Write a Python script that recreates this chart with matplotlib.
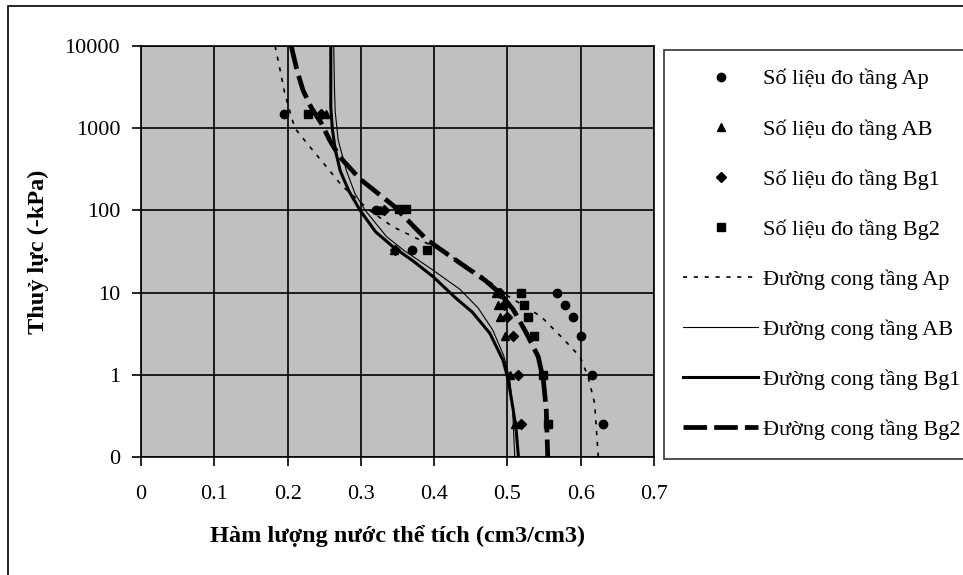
import matplotlib
matplotlib.use("Agg")
import matplotlib.pyplot as plt
from matplotlib.patches import Rectangle

# ---------- data ----------
# suction (-kPa) of measured points
ap_pts_x = [0.630, 0.615, 0.600, 0.590, 0.578, 0.567, 0.370, 0.320, 0.195]
ap_pts_y = [0.25, 1, 3, 5, 7, 10, 33, 100, 1500]

ab_pts_x = [0.510, 0.503, 0.497, 0.490, 0.487, 0.485, 0.345, 0.326, 0.253]
ab_pts_y = [0.25, 1, 3, 5, 7, 10, 33, 100, 1500]

bg1_pts_x = [0.519, 0.515, 0.507, 0.500, 0.495, 0.490, 0.347, 0.332, 0.245]
bg1_pts_y = [0.25, 1, 3, 5, 7, 10, 33, 100, 1500]

bg2_pts_x = [0.556, 0.549, 0.536, 0.528, 0.523, 0.519, 0.390, 0.352, 0.362, 0.228]
bg2_pts_y = [0.25, 1, 3, 5, 7, 10, 33, 105, 105, 1500]

# fitted curves
ap_cur_x = [0.183, 0.190, 0.196, 0.205, 0.210, 0.230, 0.253, 0.274, 0.312, 0.344,
            0.412, 0.467, 0.499, 0.546, 0.576, 0.599, 0.610, 0.619, 0.624]
ap_cur_y = [10000, 5000, 2700, 1400, 1000, 600, 340, 200, 100, 63,
            32, 15.5, 9.3, 5.1, 2.75, 1.66, 0.95, 0.45, 0.1]

ab_cur_x = [0.263, 0.264, 0.265, 0.269, 0.280, 0.292, 0.306, 0.335, 0.358, 0.399,
            0.435, 0.460, 0.480, 0.495, 0.503, 0.507, 0.510]
ab_cur_y = [10000, 3000, 1600, 720, 310, 160, 100, 48, 33, 18.6,
            11, 6.5, 3.5, 1.7, 0.9, 0.4, 0.1]

bg1_cur_x = [0.259, 0.259, 0.261, 0.265, 0.272, 0.284, 0.299, 0.320, 0.344, 0.372,
             0.399, 0.430, 0.452, 0.476, 0.494, 0.501, 0.508, 0.512, 0.515]
bg1_cur_y = [10000, 1800, 1000, 550, 300, 170, 100, 55, 36, 24,
             15.5, 8.5, 5.8, 3.2, 1.5, 0.87, 0.37, 0.21, 0.1]

bg2_cur_x = [0.205, 0.213, 0.221, 0.232, 0.246, 0.258, 0.271, 0.299, 0.344, 0.390,
             0.435, 0.470, 0.490, 0.508, 0.526, 0.542, 0.549, 0.553, 0.555]
bg2_cur_y = [10000, 5000, 2900, 1800, 1150, 700, 450, 240, 115, 44,
             23, 14, 9.8, 6.2, 3.2, 1.66, 0.87, 0.37, 0.1]

x_ticks = [0, 0.1, 0.2, 0.3, 0.4, 0.5, 0.6, 0.7]
x_labels = ["0", "0.1", "0.2", "0.3", "0.4", "0.5", "0.6", "0.7"]
y_ticks = [0.1, 1, 10, 100, 1000, 10000]
y_labels = ["0", "1", "10", "100", "1000", "10000"]

# ---------- figure ----------
plt.rcParams["font.family"] = ["Liberation Serif", "DejaVu Serif"]

W, H = 963, 575
fig = plt.figure(figsize=(W / 100, H / 100), dpi=100)
ax = fig.add_axes([141 / W, 1 - 457 / H, (654 - 141) / W, (457 - 46) / H])
ax.set_facecolor("#c0c0c0")

ms = 6
p1, = ax.plot(ap_pts_x, ap_pts_y, ls="none", marker="o", ms=ms, color="black")
p2, = ax.plot(ab_pts_x, ab_pts_y, ls="none", marker="^", ms=ms, color="black")
p3, = ax.plot(bg1_pts_x, bg1_pts_y, ls="none", marker="D", ms=ms - 1, color="black")
p4, = ax.plot(bg2_pts_x, bg2_pts_y, ls="none", marker="s", ms=ms - 0.5, color="black")

c1, = ax.plot(ap_cur_x, ap_cur_y, color="black", lw=1.2, dashes=(2.5, 4))
c2, = ax.plot(ab_cur_x, ab_cur_y, color="black", lw=0.8)
c3, = ax.plot(bg1_cur_x, bg1_cur_y, color="black", lw=2.2)
c4, = ax.plot(bg2_cur_x, bg2_cur_y, color="black", lw=3.4, dashes=(5, 1.5))

ax.set_yscale("log")
ax.set_xlim(0, 0.7)
ax.set_ylim(0.1, 10000)
ax.set_xticks(x_ticks)
ax.set_xticklabels(x_labels)
ax.set_yticks(y_ticks)
ax.set_yticklabels(y_labels)
ax.minorticks_off()
ax.tick_params(axis="both", direction="out", length=6.5, width=1.2, labelsize=16,
               colors="black")
ax.tick_params(axis="x", pad=14)
ax.tick_params(axis="y", pad=8.5)
ax.grid(True, color="black", lw=1.2)
ax.set_axisbelow(True)
for s in ax.spines.values():
    s.set_linewidth(1.2)

ax.set_xlabel("Hàm lượng nước thể tích (cm3/cm3)", fontsize=17.5, fontweight="bold",
              labelpad=15)
ax.set_ylabel("Thuỷ lực (-kPa)", fontsize=17.5, fontweight="bold", labelpad=11)

handles = [p1, p2, p3, p4, c1, c2, c3, c4]
labels = ["Số liệu đo tầng Ap", "Số liệu đo tầng AB", "Số liệu đo tầng Bg1",
          "Số liệu đo tầng Bg2", "Đường cong tầng Ap", "Đường cong tầng AB",
          "Đường cong tầng Bg1", "Đường cong tầng Bg2"]
leg = fig.legend(handles, labels, loc="upper left",
                 bbox_to_anchor=(664 / W, 1 - 50 / H), fontsize=16,
                 frameon=True, fancybox=False, edgecolor="black",
                 handlelength=3.4, handletextpad=0.2, labelspacing=1.33,
                 borderpad=0.85, borderaxespad=0, numpoints=1)
leg.get_frame().set_linewidth(1.2)

# outer chart frame
fig.patches.append(Rectangle((8 / W, -0.1), 1.2, 1 - 6 / H + 0.1,
                             transform=fig.transFigure, fill=False,
                             edgecolor="black", lw=1.2, zorder=0))

fig.savefig("out.png", dpi=100)
